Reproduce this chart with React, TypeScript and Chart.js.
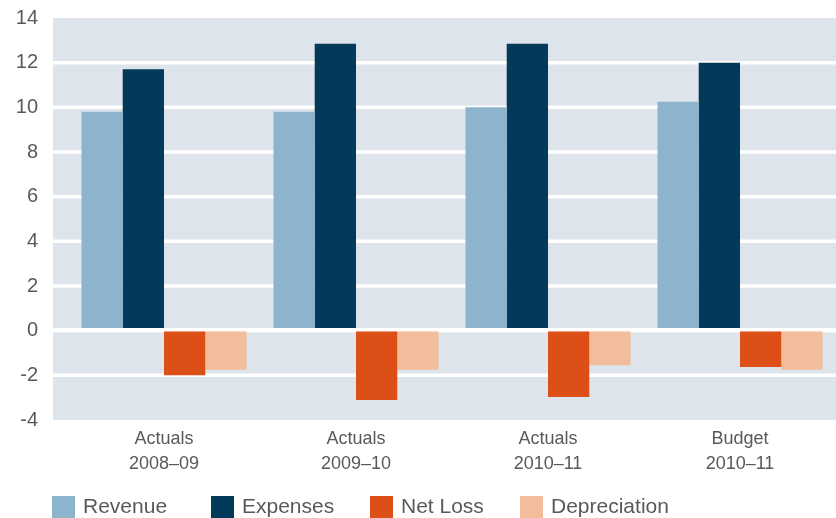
import React, { useEffect, useRef } from "react";
import { Chart, registerables } from "chart.js";

Chart.register(...registerables);

// Category labels (two lines each)
const categories: string[][] = [
  ["Actuals", "2008\u201309"],
  ["Actuals", "2009\u201310"],
  ["Actuals", "2010\u201311"],
  ["Budget", "2010\u201311"],
];

// Series values ($ millions)
const revenue = [9.8, 9.8, 10.0, 10.25];
const expenses = [11.7, 12.85, 12.85, 12.0];
const netLoss = [-2.0, -3.1, -2.97, -1.63];
const depreciation = [-1.75, -1.75, -1.55, -1.75];

// Y axis range and step
const yMin = -4;
const yMax = 14;
const yStep = 2;

const seriesNames = ["Revenue", "Expenses", "Net Loss", "Depreciation"];
const seriesColors = ["#8db4cd", "#033a5a", "#dc5018", "#f2bd9a"];

const TEXT = "#595959";
const PANEL = "#dde4ec";
const FONT = "'Liberation Sans', Arial, sans-serif";

// Panel background and white horizontal rules, extended a little left of the axis
const panelPlugin = {
  id: "panel",
  beforeDatasetsDraw(chart: any) {
    const { ctx, chartArea, scales } = chart;
    const y = scales.y;
    const left = chartArea.left - 15;
    ctx.save();
    ctx.fillStyle = PANEL;
    ctx.fillRect(left, chartArea.top, chartArea.right - left, chartArea.bottom - chartArea.top);
    ctx.strokeStyle = "#ffffff";
    ctx.lineWidth = 3.5;
    for (let v = yMin + yStep; v < yMax; v += yStep) {
      const py = y.getPixelForValue(v);
      ctx.beginPath();
      ctx.moveTo(left, py);
      ctx.lineTo(chartArea.right, py);
      ctx.stroke();
    }
    ctx.restore();
  },
  afterDatasetsDraw(chart: any) {
    const { ctx, chartArea, scales } = chart;
    const left = chartArea.left - 15;
    const py = scales.y.getPixelForValue(0) - 1;
    ctx.save();
    ctx.strokeStyle = "#ffffff";
    ctx.lineWidth = 3.4;
    ctx.beginPath();
    ctx.moveTo(left, py);
    ctx.lineTo(chartArea.right, py);
    ctx.stroke();
    ctx.restore();
  },
};

// Legend row along the bottom edge
const legendSlots = [52, 211, 370, 520];
const legendPlugin = {
  id: "bottomLegend",
  afterDraw(chart: any) {
    const { ctx } = chart;
    const datasets = chart.data.datasets;
    ctx.save();
    ctx.font = `21px ${FONT}`;
    ctx.textBaseline = "middle";
    ctx.textAlign = "left";
    datasets.forEach((ds: any, i: number) => {
      const x = legendSlots[i];
      const top = 496;
      ctx.fillStyle = ds.backgroundColor;
      ctx.fillRect(x, top, 23, 22);
      ctx.fillStyle = TEXT;
      ctx.fillText(ds.label, x + 31, top + 11);
    });
    ctx.restore();
  },
};

export default function App() {
  const canvasRef = useRef<HTMLCanvasElement | null>(null);

  useEffect(() => {
    if (!canvasRef.current) return;
    const series = [revenue, expenses, netLoss, depreciation];
    const chart = new Chart(canvasRef.current, {
      type: "bar",
      data: {
        labels: categories,
        datasets: series.map((data, i) => ({
          label: seriesNames[i],
          data,
          backgroundColor: seriesColors[i],
          borderWidth: 0,
          barPercentage: 1,
          categoryPercentage: 0.86,
        })),
      },
      options: {
        responsive: false,
        animation: false,
        maintainAspectRatio: false,
        layout: { padding: { top: 18, right: 0, bottom: 0, left: 0 } },
        plugins: {
          legend: { display: false },
          tooltip: { enabled: false },
          title: { display: false },
        },
        scales: {
          x: {
            offset: true,
            grid: { display: false, drawTicks: false },
            border: { display: false },
            ticks: {
              color: TEXT,
              padding: 7,
              font: { family: FONT, size: 18, lineHeight: 1.36 },
              maxRotation: 0,
              autoSkip: false,
            },
            afterFit: (s: any) => {
              s.height = 98;
            },
          },
          y: {
            min: yMin,
            max: yMax,
            grid: {
              display: true,
              drawOnChartArea: false,
              drawTicks: true,
              tickLength: 30,
              color: "rgba(0,0,0,0)",
            },
            border: { display: false },
            ticks: {
              stepSize: yStep,
              color: TEXT,
              padding: 0,
              font: { family: FONT, size: 20 },
            },
            afterFit: (s: any) => {
              s.width = 68;
            },
          },
        },
      },
      plugins: [panelPlugin, legendPlugin],
    });
    return () => chart.destroy();
  }, []);

  return (
    <div style={{ position: "absolute", left: 0, top: 0, width: 836, height: 518 }}>
      <canvas ref={canvasRef} width={836} height={518} />
    </div>
  );
}
